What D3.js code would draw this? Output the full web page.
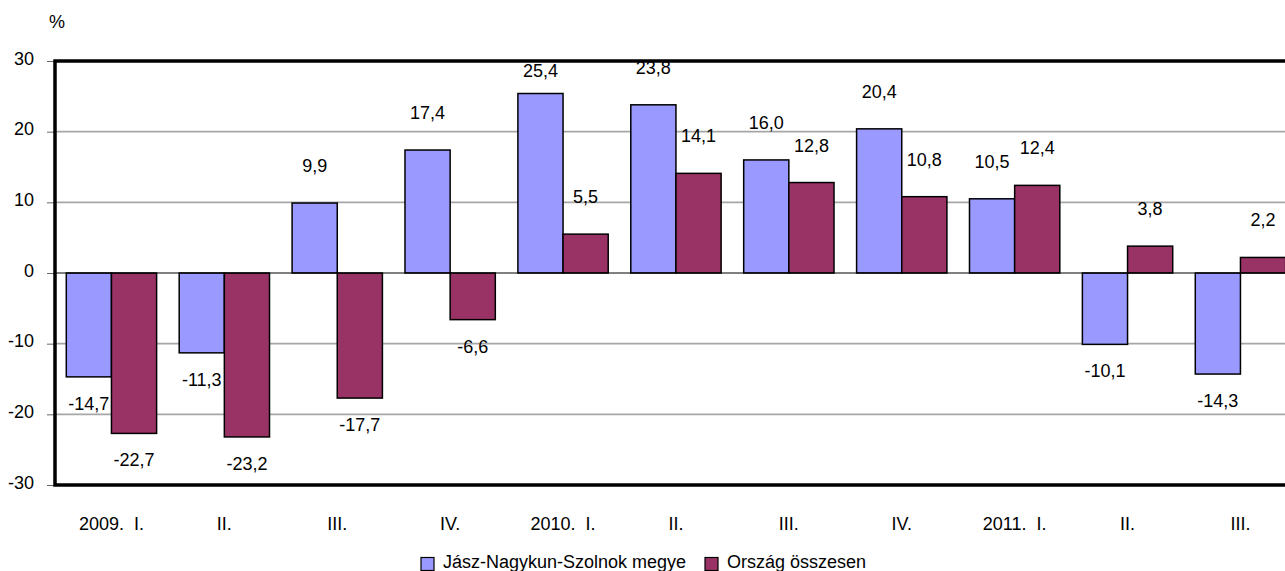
<!DOCTYPE html>
<html>
<head>
<meta charset="utf-8">
<script src="https://cdn.jsdelivr.net/npm/d3@7"></script>
<style>
  html, body { margin: 0; padding: 0; background: #fff; overflow: hidden; }
  svg { display: block; font-family: "Liberation Sans", Arial, sans-serif; }
</style>
</head>
<body>
<svg id="chart" width="1285" height="571"></svg>
<script>
// ---- data ----
const categories = ["2009.  I.", "II.", "III.", "IV.", "2010.  I.", "II.", "III.", "IV.", "2011.  I.", "II.", "III."];
const seriesNames = ["Jász-Nagykun-Szolnok megye", "Ország összesen"];
const countyValues = [-14.7, -11.3, 9.9, 17.4, 25.4, 23.8, 16.0, 20.4, 10.5, -10.1, -14.3];
const nationalValues = [-22.7, -23.2, -17.7, -6.6, 5.5, 14.1, 12.8, 10.8, 12.4, 3.8, 2.2];
const yTicks = [-30, -20, -10, 0, 10, 20, 30];
const yUnit = "%";

// ---- layout ----
const W = 1285, H = 571;
const plot = { left: 55, top: 61, right: 55 + 11 * 112.9, bottom: 485 };
const colors = ["#9999FF", "#993366"];
const fontSize = 18;

const svg = d3.select("#chart");

const x = d3.scaleBand()
  .domain(d3.range(categories.length))
  .range([plot.left, plot.right])
  .paddingInner(0.2)
  .paddingOuter(0.1);

const xSub = d3.scaleBand()
  .domain([0, 1])
  .range([0, x.bandwidth()]);

const y = d3.scaleLinear().domain([-30, 30]).range([plot.bottom, plot.top]);

const fmt = v => d3.format(".1f")(v).replace(".", ",").replace("−", "-");

// gridlines
svg.append("g")
  .selectAll("line")
  .data(yTicks.filter(t => t !== 0 && t !== 30 && t !== -30))
  .join("line")
  .attr("x1", plot.left).attr("x2", plot.right)
  .attr("y1", d => y(d)).attr("y2", d => y(d))
  .attr("stroke", "#a6a6a6").attr("stroke-width", 1.6);

// y axis ticks + labels
const yAxis = d3.axisLeft(y).tickValues(yTicks).tickSize(8).tickPadding(13)
  .tickFormat(d => String(d));
const gy = svg.append("g").attr("transform", `translate(${plot.left},0)`).call(yAxis);
gy.select(".domain").remove();
gy.selectAll(".tick line").attr("stroke", "#666").attr("stroke-width", 1);
gy.selectAll(".tick text")
  .attr("font-size", fontSize).attr("font-family", "Liberation Sans, Arial, sans-serif")
  .attr("fill", "#000").attr("dy", "0.17em");

// unit label
svg.append("text").attr("x", 57).attr("y", 28).attr("text-anchor", "middle")
  .attr("font-size", fontSize).text(yUnit);

// bars
const series = [countyValues, nationalValues];
series.forEach((vals, si) => {
  svg.append("g").selectAll("rect")
    .data(vals)
    .join("rect")
    .attr("x", (d, i) => x(i) + xSub(si))
    .attr("width", xSub.bandwidth())
    .attr("y", d => y(Math.max(0, d)))
    .attr("height", d => Math.abs(y(d) - y(0)))
    .attr("fill", colors[si])
    .attr("stroke", "#000").attr("stroke-width", 1.5);
});

// zero line
svg.append("line")
  .attr("x1", plot.left).attr("x2", plot.right)
  .attr("y1", y(0)).attr("y2", y(0))
  .attr("stroke", "#000").attr("stroke-width", 1);

// value labels
const labelShift = { "0-4": 14.5 }; // manual nudge of a crowded label (series-index)
series.forEach((vals, si) => {
  svg.append("g").selectAll("text")
    .data(vals)
    .join("text")
    .attr("x", (d, i) => x(i) + xSub(si) + xSub.bandwidth() / 2)
    .attr("y", (d, i) => (d >= 0 ? y(d) - 31 : y(d) + 33) + (labelShift[si + "-" + i] || 0))
    .attr("text-anchor", "middle")
    .attr("font-size", fontSize)
    .attr("fill", "#000")
    .text(d => fmt(d));
});

// plot border (drawn on top)
svg.append("rect")
  .attr("x", plot.left).attr("y", plot.top)
  .attr("width", plot.right - plot.left).attr("height", plot.bottom - plot.top)
  .attr("fill", "none").attr("stroke", "#000").attr("stroke-width", 3.5);

// x labels
svg.append("g").selectAll("text")
  .data(categories)
  .join("text")
  .attr("x", (d, i) => x(i) + x.bandwidth() / 2)
  .attr("y", 530)
  .attr("text-anchor", "middle")
  .attr("font-size", fontSize)
  .style("white-space", "pre")
  .attr("xml:space", "preserve")
  .text(d => d);

// legend
const legendItems = [{ sx: 421, tx: 443 }, { sx: 705, tx: 727 }];
const lg = svg.append("g");
seriesNames.forEach((name, i) => {
  lg.append("rect")
    .attr("x", legendItems[i].sx).attr("y", 557.5)
    .attr("width", 13).attr("height", 13)
    .attr("fill", colors[i]).attr("stroke", "#000").attr("stroke-width", 1.2);
  lg.append("text")
    .attr("x", legendItems[i].tx).attr("y", 568)
    .attr("font-size", fontSize)
    .text(name);
});
</script>
</body>
</html>
